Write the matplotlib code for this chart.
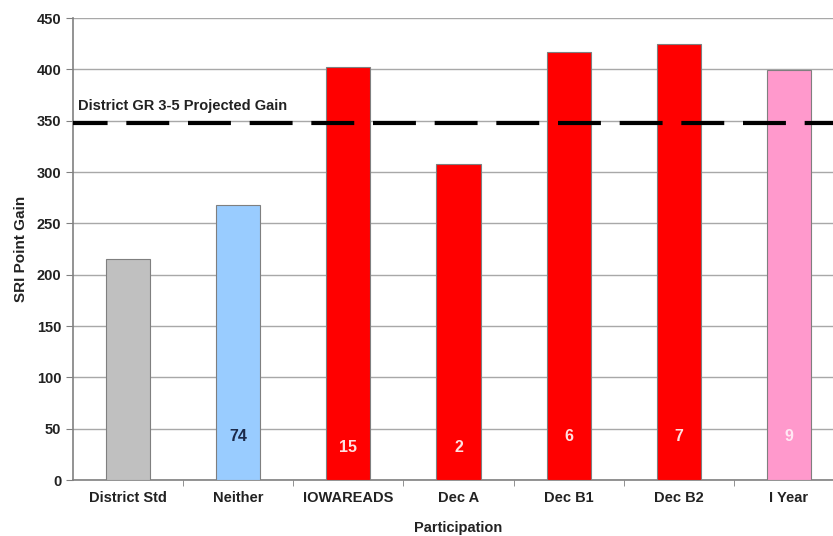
import numpy as np
import matplotlib
matplotlib.use("Agg")
import matplotlib.pyplot as plt

plt.rcParams['font.family'] = ['Liberation Sans', 'DejaVu Sans']
plt.rcParams['font.weight'] = 'bold'

# data
categories = ["District Std", "Neither", "IOWAREADS", "Dec A", "Dec B1", "Dec B2", "I Year"]
gains = [215, 268, 402, 308, 417, 425, 399]
counts = ["", "74", "15", "2", "6", "7", "9"]
count_y = [0, 42, 32, 32, 42, 42, 42]
bar_colors = ["#c0c0c0", "#99ccff", "#ff0000", "#ff0000", "#ff0000", "#ff0000", "#ff99cc"]
count_colors = ["k", "#1c2a4a", "#ffe0e0", "#ffe0e0", "#ffe0e0", "#ffe0e0", "#ffe8f4"]
projected_gain = 348
projected_label = "District GR 3-5 Projected Gain"

fig = plt.figure(figsize=(8.33, 5.36), dpi=100)
# the original chart runs off the right edge of the picture
ax = fig.add_axes([73 / 833, 56 / 536, 771 / 833, 462 / 536])

x = np.arange(len(categories))
ax.bar(x, gains, width=0.4, color=bar_colors, edgecolor="#7f7f7f", linewidth=0.8, zorder=3)

for xi, lab, yy, c in zip(x, counts, count_y, count_colors):
    if lab:
        ax.text(xi, yy, lab, ha="center", va="center", fontsize=11.5, color=c,
                fontweight="bold", zorder=4)

ax.axhline(projected_gain, color="black", linewidth=3, linestyle=(2, (10.3, 4.5)), zorder=5)
ax.text(0.0065, projected_gain + 9, projected_label, transform=ax.get_yaxis_transform(),
        ha="left", va="bottom", fontsize=10.5, fontweight="bold", color="#222222")

ax.set_xlim(-0.5, len(categories) - 0.5)
ax.set_ylim(0, 450)
ax.set_yticks(np.arange(0, 451, 50))
ax.yaxis.grid(True, color="#a8a8a8", linewidth=1, zorder=0)

ax.set_xticks(x)
ax.set_xticklabels(categories)
ax.set_xticks(np.arange(0.5, len(categories) - 0.5, 1), minor=True)
ax.tick_params(axis="x", which="major", length=0, pad=8, labelsize=10.5, colors="#222222")
ax.tick_params(axis="x", which="minor", length=4, color="#808080", direction="out")
ax.tick_params(axis="y", length=5, color="#808080", labelsize=10.5, labelcolor="#222222")

for side in ["top", "right"]:
    ax.spines[side].set_visible(False)
for side in ["left", "bottom"]:
    ax.spines[side].set_color("#808080")
    ax.spines[side].set_linewidth(1.2)

ax.set_ylabel("SRI Point Gain", fontsize=11, fontweight="bold", color="#222222", labelpad=6)
ax.set_xlabel("Participation", fontsize=10.5, fontweight="bold", color="#222222", labelpad=11.5)

fig.savefig("out.png", dpi=100)
